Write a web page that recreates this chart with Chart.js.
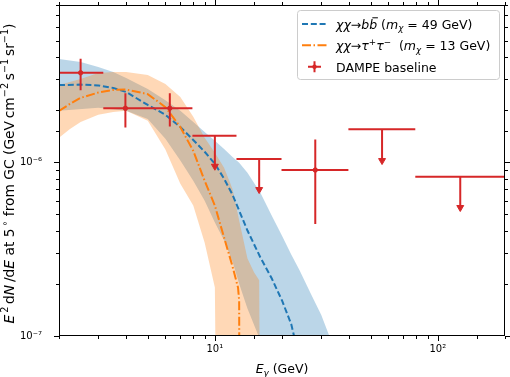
<!DOCTYPE html>
<html>
<head>
<meta charset="utf-8">
<script src="https://cdn.jsdelivr.net/npm/chart.js@4.4.1/dist/chart.umd.min.js"></script>
<style>
  html, body { margin: 0; padding: 0; background: #fff; }
  #wrap { width: 510px; height: 377px; position: relative; }
</style>
</head>
<body>
<div id="wrap"><canvas id="chart" width="510" height="377"></canvas></div>
<script>
// E^2 dN/dE in GeV cm^-2 s^-1 sr^-1, energies in GeV

// chi chi -> b bbar, m = 49 GeV
const bbE = [2, 2.5, 3, 3.5, 4, 5, 6, 7, 8, 9, 10, 11, 12, 12.85, 14, 16, 18, 20, 22, 23];
const bbFlux = [2.77e-6, 2.79e-6, 2.76e-6, 2.67e-6, 2.53e-6, 2.13e-6, 1.87e-6, 1.59e-6, 1.34e-6, 1.146e-6,
                0.978e-6, 0.802e-6, 0.649e-6, 0.526e-6, 0.404e-6, 0.283e-6, 0.214e-6, 0.160e-6, 0.117e-6, 0.092e-6];
const bbUpE = [2, 2.5, 3, 3.5, 4, 5, 6, 7, 8, 9, 10, 11, 12, 12.85, 14, 16, 18, 20, 22, 24, 27, 30, 32.6, 34];
const bbUp = [3.91e-6, 3.76e-6, 3.52e-6, 3.29e-6, 3.04e-6, 2.63e-6, 2.27e-6, 1.97e-6, 1.70e-6, 1.49e-6,
              1.325e-6, 1.19e-6, 1.07e-6, 0.99e-6, 0.869e-6, 0.667e-6, 0.491e-6, 0.377e-6, 0.294e-6, 0.238e-6,
              0.174e-6, 0.132e-6, 0.100e-6, 0.088e-6];
const bbLoE = [2, 3, 4, 5, 6, 7, 8, 9, 10, 11, 12, 12.85, 14, 15.7, 17];
const bbLo = [1.97e-6, 2.05e-6, 1.97e-6, 1.77e-6, 1.36e-6, 1.02e-6, 0.781e-6, 0.600e-6, 0.449e-6, 0.354e-6,
              0.268e-6, 0.200e-6, 0.144e-6, 0.100e-6, 0.080e-6];

// chi chi -> tau+ tau-, m = 13 GeV
const ttE = [2, 2.24, 2.5, 3, 3.5, 4, 5, 6, 7, 8, 9, 10, 11, 12, 12.7, 12.85, 12.88];
const ttFlux = [1.97e-6, 2.16e-6, 2.34e-6, 2.51e-6, 2.60e-6, 2.61e-6, 2.46e-6, 2.07e-6, 1.59e-6, 1.16e-6,
                0.781e-6, 0.562e-6, 0.368e-6, 0.251e-6, 0.190e-6, 0.160e-6, 0.05e-6];
const ttUpE = [2, 2.5, 3, 3.5, 4, 5, 6, 7, 8, 9, 10, 11, 12, 12.85, 14, 15, 15.8, 15.9];
const ttUp = [2.77e-6, 3.00e-6, 3.25e-6, 3.29e-6, 3.29e-6, 3.17e-6, 2.81e-6, 2.37e-6, 1.82e-6, 1.38e-6,
              1.13e-6, 0.927e-6, 0.70e-6, 0.461e-6, 0.279e-6, 0.232e-6, 0.209e-6, 0.05e-6];
const ttLoE = [2, 2.24, 2.5, 3, 3.5, 4, 5, 6, 7, 8, 9, 10, 10.1];
const ttLo = [1.38e-6, 1.55e-6, 1.70e-6, 1.87e-6, 1.94e-6, 1.97e-6, 1.73e-6, 1.18e-6, 0.751e-6, 0.562e-6,
              0.344e-6, 0.190e-6, 0.05e-6];

// DAMPE baseline
const binLo = [2.0, 3.16, 5.0, 7.93, 12.5, 19.9, 39.7, 79.2];
const binHi = [3.16, 5.0, 7.93, 12.5, 19.9, 39.7, 79.2, 199];
const binE = [2.5, 3.97, 6.28, 10.0, 15.8, 28.2, 56.2, 126];
const dampeFlux = [3.26e-6, 2.04e-6, 2.04e-6, 1.415e-6, 1.04e-6, 0.90e-6, 1.546e-6, 0.824e-6];
const dampeErrHi = [3.93e-6, 2.49e-6, 2.49e-6, null, null, 1.35e-6, null, null];
const dampeErrLo = [2.59e-6, 1.58e-6, 1.60e-6, null, null, 0.441e-6, null, null];
const isLimit = [false, false, false, true, true, false, true, true];
const limitEnd = [null, null, null, 0.946e-6, 0.695e-6, null, 1.02e-6, 0.548e-6];

const BLUE = '#1f77b4', ORANGE = '#ff7f0e', RED = '#d62728';
const FONT = '"DejaVu Sans", sans-serif';

function pts(xs, ys) { return xs.map((x, i) => ({ x: x, y: ys[i] })); }

function bandShape(upE, up, loE, lo) {
    const out = pts(upE, up);
    for (let i = loE.length - 1; i >= 0; i--) out.push({ x: loE[i], y: lo[i] });
    return out;
}

const hBars = [], vBars = [], dots = [], heads = [];
binE.forEach((e, i) => {
    hBars.push({ x: binLo[i], y: dampeFlux[i] }, { x: binHi[i], y: dampeFlux[i] }, { x: binHi[i], y: null });
    if (isLimit[i]) {
        vBars.push({ x: e, y: dampeFlux[i] }, { x: e, y: limitEnd[i] }, { x: e, y: null });
        heads.push({ x: e, y: limitEnd[i] });
    } else {
        vBars.push({ x: e, y: dampeErrLo[i] }, { x: e, y: dampeErrHi[i] }, { x: e, y: null });
        dots.push({ x: e, y: dampeFlux[i] });
    }
});

// --- rich text helpers (italic / super / subscripts / overbar)
function runFont(style, size) {
    const small = style === 'sup' || style === 'subi';
    const it = style === 'i' || style === 'subi' || style === 'ibar' ? 'italic ' : '';
    return it + (small ? size * 0.7 : size) + 'px ' + FONT;
}
function runShift(style, size) {
    if (style === 'sup') return -size * 0.42;
    if (style === 'subi') return size * 0.2;
    return 0;
}
function runsWidth(ctx, runs, size) {
    let w = 0;
    for (const [t, s] of runs) { ctx.font = runFont(s, size); w += ctx.measureText(t).width; }
    return w;
}
function drawRuns(ctx, runs, x, y, size) {
    for (const [t, s] of runs) {
        ctx.font = runFont(s, size);
        ctx.fillText(t, x, y + runShift(s, size));
        const w = ctx.measureText(t).width;
        if (s === 'ibar') {
            ctx.fillRect(x + size * 0.25, y - size * 0.92, w * 0.7, Math.max(1, size * 0.07));
        }
        x += w;
    }
}

const yTitle = [['E', 'i'], ['\u20092', 'sup'], ['\u2009d', 'n'], ['N', 'i'], ['\u2009/d', 'n'], ['E', 'i'], [' at 5', 'n'], ['\u2009\u2218', 'sup'],
    [' from GC (GeV\u2009cm', 'n'], ['\u22122', 'sup'], ['\u2009s', 'n'], ['\u22121', 'sup'], ['\u2009sr', 'n'], ['\u22121', 'sup'], [')', 'n']];
const xTitle = [['E', 'i'], ['\u03b3', 'subi'], [' (GeV)', 'n']];
const legendRows = [
    [['\u03c7\u03c7', 'i'], ['\u2192', 'n'], ['b', 'i'], ['b', 'ibar'], [' (', 'n'], ['m', 'i'], ['\u03c7', 'subi'], [' = 49 GeV)', 'n']],
    [['\u03c7\u03c7', 'i'], ['\u2192', 'n'], ['\u03c4', 'i'], ['+', 'sup'], ['\u03c4', 'i'], ['\u2212', 'sup'], ['  (', 'n'], ['m', 'i'], ['\u03c7', 'subi'], [' = 13 GeV)', 'n']],
    [['DAMPE baseline', 'n']]
];

function isDecade(v) {
    const l = Math.log10(v);
    return Math.abs(l - Math.round(l)) < 1e-6;
}
const SUP = { '-': '\u207b', '0': '\u2070', '1': '\u00b9', '2': '\u00b2', '3': '\u00b3', '4': '\u2074', '5': '\u2075', '6': '\u2076', '7': '\u2077', '8': '\u2078', '9': '\u2079' };
function decadeLabel(v) {
    if (!isDecade(v)) return '';
    const p = String(Math.round(Math.log10(v)));
    return '10' + p.split('').map(c => SUP[c]).join('');
}

const decorations = {
    id: 'decorations',
    afterDatasetsDraw(chart) {
        const ctx = chart.ctx;
        const a = chart.chartArea;
        const xs = chart.scales.x, ys = chart.scales.y;
        ctx.save();
        ctx.strokeStyle = '#000';
        ctx.lineWidth = 1;
        // ticks on all four sides, pointing out
        ctx.beginPath();
        xs.ticks.forEach(t => {
            const px = Math.round(xs.getPixelForValue(t.value)) + 0.5;
            const len = isDecade(t.value) ? 5 : 3;
            ctx.moveTo(px, a.bottom); ctx.lineTo(px, a.bottom + len);
            ctx.moveTo(px, a.top); ctx.lineTo(px, a.top - len);
        });
        ys.ticks.forEach(t => {
            const py = Math.round(ys.getPixelForValue(t.value)) + 0.5;
            const len = isDecade(t.value) ? 5 : 3;
            ctx.moveTo(a.left, py); ctx.lineTo(a.left - len, py);
            ctx.moveTo(a.right, py); ctx.lineTo(a.right + len, py);
        });
        ctx.stroke();
        ctx.strokeRect(a.left + 0.5, a.top + 0.5, a.right - a.left - 1, a.bottom - a.top - 1);

        // axis titles
        ctx.fillStyle = '#000';
        ctx.textBaseline = 'alphabetic';
        const size = 12.5;
        let w = runsWidth(ctx, xTitle, size);
        drawRuns(ctx, xTitle, (a.left + a.right) / 2 - w / 2, 373, size);
        ctx.save();
        ctx.translate(13.5, (a.top + a.bottom) / 2 + 3);
        ctx.rotate(-Math.PI / 2);
        w = runsWidth(ctx, yTitle, 13.8);
        drawRuns(ctx, yTitle, -w / 2, 0, 13.8);
        ctx.restore();

        // legend
        ctx.fillStyle = 'rgba(255,255,255,0.8)';
        ctx.strokeStyle = '#cccccc';
        ctx.beginPath();
        ctx.roundRect(297.5, 10.5, 202, 69, 3);
        ctx.fill();
        ctx.stroke();
        const rowY = [24, 45.3, 66.7];
        ctx.lineWidth = 2;
        ctx.strokeStyle = BLUE;
        ctx.setLineDash([6, 2.8]);
        ctx.beginPath(); ctx.moveTo(302, rowY[0]); ctx.lineTo(327, rowY[0]); ctx.stroke();
        ctx.strokeStyle = ORANGE;
        ctx.setLineDash([9, 2.5, 1.5, 2.5]);
        ctx.beginPath(); ctx.moveTo(302, rowY[1]); ctx.lineTo(327, rowY[1]); ctx.stroke();
        ctx.setLineDash([]);
        ctx.strokeStyle = RED;
        ctx.beginPath();
        ctx.moveTo(308, rowY[2]); ctx.lineTo(321, rowY[2]);
        ctx.moveTo(314.5, rowY[2] - 5.5); ctx.lineTo(314.5, rowY[2] + 5.5);
        ctx.stroke();
        ctx.fillStyle = RED;
        ctx.beginPath(); ctx.arc(314.5, rowY[2], 2.2, 0, Math.PI * 2); ctx.fill();
        ctx.fillStyle = '#000';
        legendRows.forEach((r, i) => drawRuns(ctx, r, 336, rowY[i] + 4.8, size));
        ctx.restore();
    }
};

// fixed-size axis boxes, no extra end padding
const pinBox = (dim, val) => s => {
    s[dim] = val;
    s.paddingLeft = 0; s.paddingRight = 0; s.paddingTop = 0; s.paddingBottom = 0;
};

const logAxis = (min, max, pad, fit) => ({
    type: 'logarithmic',
    min: min,
    max: max,
    grid: { display: false, drawTicks: false },
    border: { display: false },
    ticks: {
        autoSkip: false,
        maxRotation: 0,
        padding: pad,
        color: '#000',
        font: { family: FONT, size: 10 },
        callback: v => decadeLabel(v)
    },
    afterFit: fit
});

new Chart(document.getElementById('chart'), {
    type: 'scatter',
    data: {
        datasets: [
            {
                data: bandShape(bbUpE, bbUp, bbLoE, bbLo), showLine: true, fill: 'shape',
                backgroundColor: 'rgba(31,119,180,0.3)', borderColor: 'rgba(0,0,0,0)', borderWidth: 1,
                pointRadius: 0, order: 11
            },
            {
                data: bandShape(ttUpE, ttUp, ttLoE, ttLo), showLine: true, fill: 'shape',
                backgroundColor: 'rgba(255,127,14,0.3)', borderColor: 'rgba(0,0,0,0)', borderWidth: 1,
                pointRadius: 0, order: 10
            },
            {
                data: pts(bbE, bbFlux), showLine: true, borderColor: BLUE, borderWidth: 2,
                borderDash: [6, 2.8], pointRadius: 0, order: 6
            },
            {
                data: pts(ttE, ttFlux), showLine: true, borderColor: ORANGE, borderWidth: 2,
                borderDash: [9, 2.5, 1.5, 2.5], pointRadius: 0, order: 5
            },
            { data: hBars, showLine: true, spanGaps: false, borderColor: RED, borderWidth: 2, pointRadius: 0, order: 2 },
            { data: vBars, showLine: true, spanGaps: false, borderColor: RED, borderWidth: 2, pointRadius: 0, order: 2 },
            { data: dots, pointRadius: 2.2, backgroundColor: RED, borderColor: RED, borderWidth: 1, order: 1 },
            {
                data: heads, pointStyle: 'triangle', rotation: 180, pointRadius: 4,
                backgroundColor: RED, borderColor: RED, borderWidth: 1, order: 1
            }
        ]
    },
    options: {
        responsive: false,
        animation: false,
        layout: { padding: { top: 4, right: 5, left: 0, bottom: 0 } },
        plugins: { legend: { display: false }, tooltip: { enabled: false } },
        elements: { point: { hoverRadius: 0 } },
        scales: {
            x: logAxis(2, 200, 7, pinBox('height', 41)),
            y: logAxis(1e-7, 8e-6, 17, pinBox('width', 59))
        }
    },
    plugins: [decorations]
});
</script>
</body>
</html>
